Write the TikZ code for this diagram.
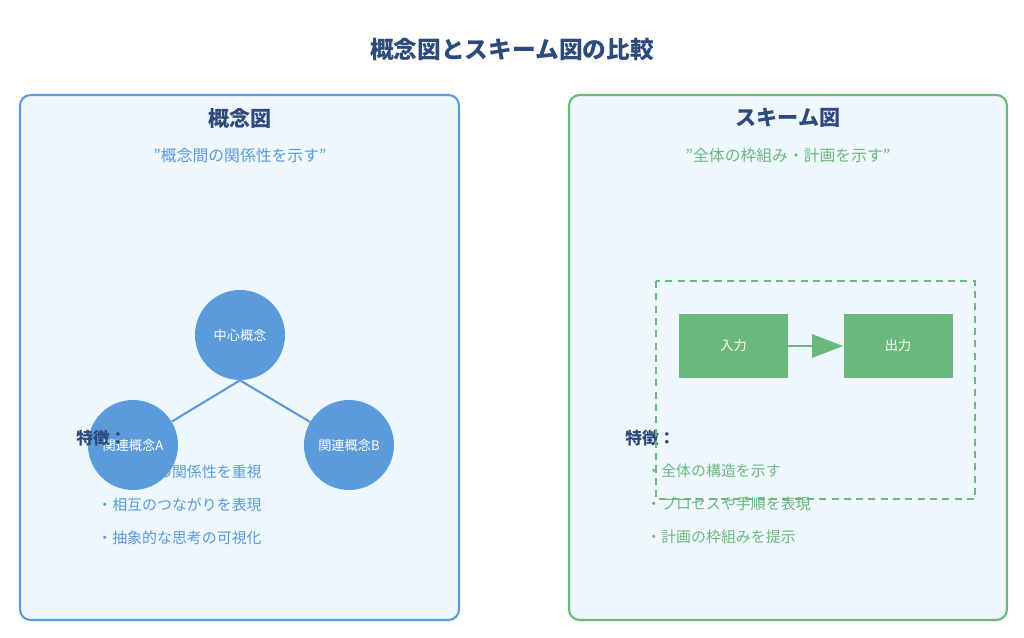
\documentclass[tikz,border=0pt]{standalone}
\usepackage{fontspec}
\setmainfont[Ligatures=NoCommon]{Noto Sans CJK JP}
\usetikzlibrary{arrows.meta}
\definecolor{ink}{HTML}{2E4A7A}
\definecolor{cblue}{HTML}{5B9BD9}
\definecolor{cgreen}{HTML}{6AB87C}
\definecolor{panel}{HTML}{EEF6FE}
\tikzset{
  panelbox/.style={rounded corners=6pt,line width=1.2pt,fill=panel},
  concept/.style={circle,fill=cblue,minimum size=1.8cm,inner sep=0pt,text=white,font=\fontsize{7.5}{8}\selectfont},
  block/.style={fill=cgreen,minimum width=2.18cm,minimum height=1.28cm,inner sep=0pt,text=white,font=\fontsize{7.5}{8}\selectfont},
  item/.style={anchor=west,font=\fontsize{8.5}{9}\selectfont,inner sep=0pt}
}
\begin{document}
\begin{tikzpicture}[x=0.02cm,y=-0.02cm]
  \useasboundingbox (0,0) rectangle (1024,637);
  \node (title) at (512,50) {\fontsize{13.5}{15}\selectfont\bfseries\color{ink}概念図とスキーム図の比較};

  % left panel
  \draw[panelbox,draw=cblue] (20,95) rectangle (459,620);
  \node (lhead) at (240,118) {\fontsize{12}{13}\selectfont\bfseries\color{ink}概念図};
  \node (lsub) at (240,155) {\fontsize{9}{10}\selectfont\color{cblue}\symbol{34}概念間の関係性を示す\symbol{34}};
  \node[item,text=cblue] (l1) at (97,472) {・概念間の関係性を重視};
  \node[item,text=cblue] (l2) at (97,505) {・相互のつながりを表現};
  \node[item,text=cblue] (l3) at (97,538) {・抽象的な思考の可視化};
  \node[concept] (core) at (240,335) {中心概念};
  \node[concept] (ca) at (133,445) {関連概念A};
  \node[concept] (cb) at (349,445) {関連概念B};
  \draw[cblue,line width=1.2pt] (core.south) -- (ca);
  \draw[cblue,line width=1.2pt] (core.south) -- (cb);
  \node[item,font=\fontsize{9.5}{10}\selectfont\bfseries,text=ink] (lfeat) at (76,438) {特徴：};

  % right panel
  \draw[panelbox,draw=cgreen] (569,95) rectangle (1007,620);
  \node (rhead) at (788,118) {\fontsize{12}{13}\selectfont\bfseries\color{ink}スキーム図};
  \node (rsub) at (788,155) {\fontsize{9}{10}\selectfont\color{cgreen}\symbol{34}全体の枠組み・計画を示す\symbol{34}};
  \node[item,font=\fontsize{9.5}{10}\selectfont\bfseries,text=ink] (rfeat) at (625,438) {特徴：};
  \node[item,text=cgreen] (r1) at (646,471) {・全体の構造を示す};
  \node[item,text=cgreen] (r2) at (646,504) {・プロセスや手順を表現};
  \node[item,text=cgreen] (r3) at (646,537) {・計画の枠組みを提示};
  \node[block] (inp) at (733.5,346) {入力};
  \node[block] (outp) at (898,346) {出力};
  \draw[cgreen,line width=1.6pt,-{Triangle[length=0.62cm,width=0.46cm]}] (inp) -- (outp);
  \draw[cgreen,line width=1.3pt,dash pattern=on 4pt off 3pt] (656,281) rectangle (975,499);
\end{tikzpicture}
\end{document}
